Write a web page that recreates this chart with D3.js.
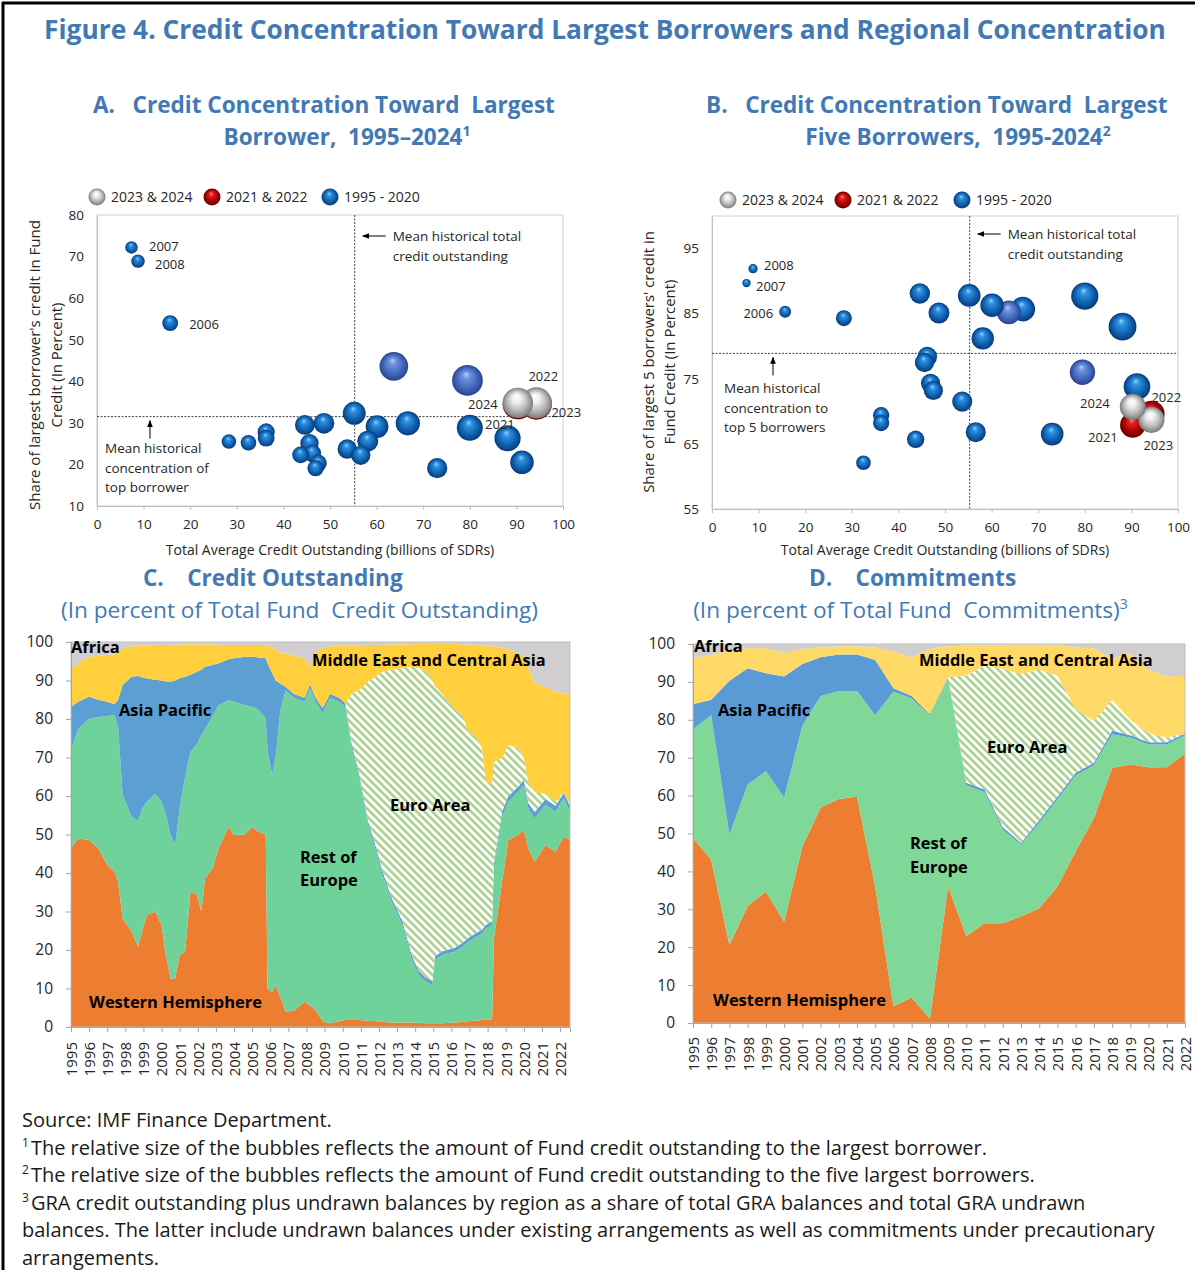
<!DOCTYPE html>
<html>
<head>
<meta charset="utf-8">
<title>Figure 4. Credit Concentration</title>
<script src="https://cdn.jsdelivr.net/npm/d3@7"></script>
<style>
  body { margin: 0; background: #fff; }
  svg text { font-family: "Open Sans", "Noto Sans", sans-serif; }
</style>
</head>
<body>
<svg id="fig" width="1195" height="1270"></svg>
<script>
// ---------- panels A and B: one bubble per year ----------
var bubbleLabel = ['2006', '2007', '2008', '', '', '', '', '', '', '', '', '', '', '', '', '', '', '', '', '', '', '', '', '', '', '',
  '2021', '2022', '2023', '2024'];
var bubbleSeries = ['1995 - 2020', '1995 - 2020', '1995 - 2020', '1995 - 2020', '1995 - 2020', '1995 - 2020', '1995 - 2020',
  '1995 - 2020', '1995 - 2020', '1995 - 2020', '1995 - 2020', '1995 - 2020', '1995 - 2020', '1995 - 2020', '1995 - 2020',
  '1995 - 2020', '1995 - 2020', '1995 - 2020', '1995 - 2020', '1995 - 2020', '1995 - 2020', '1995 - 2020', '1995 - 2020',
  '1995 - 2020', '1995 - 2020', '1995 - 2020', '2021 & 2022', '2021 & 2022', '2023 & 2024', '2023 & 2024'];
// total average credit outstanding (billions of SDRs)
var creditOutstanding = [15.7, 7.4, 8.8, 28.3, 32.5, 36.3, 36.3, 44.6, 45.6, 43.7, 46.2, 46.9, 47.5, 48.7, 55.2,
  53.7, 56.6, 58.1, 60.1, 63.7, 66.7, 73.0, 79.5, 80.0, 88.1, 91.2, 90.3, 94.3, 94.3, 90.3];
// share of the largest borrower (panel A) and of the five largest (panel B), percent
var topBorrowerShare = [54.0, 72.2, 68.9, 25.5, 25.2, 27.8, 26.3, 29.5, 25.1, 22.3, 22.7, 19.1, 20.3, 29.9, 32.3,
  23.7, 22.2, 25.6, 29.1, 43.6, 29.9, 19.1, 40.2, 28.8, 26.3, 20.5, 34.5, 34.5, 34.8, 34.8];
var topFiveShare = [85.3, 89.7, 91.9, 84.3, 62.1, 69.4, 68.2, 88.1, 77.5, 65.7, 78.4, 74.3, 73.2, 85.1, 87.8,
  71.5, 66.8, 81.2, 86.3, 85.2, 85.7, 66.5, 76.0, 87.7, 83.0, 73.8, 67.9, 69.6, 68.7, 70.7];
// bubble sizes: credit outstanding to the largest / five largest borrowers
var topBorrowerCredit = [8.5, 5.3, 6.1, 7.2, 8.2, 10.1, 9.5, 13.2, 11.4, 9.7, 10.5, 9.0, 9.6, 14.6, 17.8,
  12.7, 12.6, 14.9, 17.5, 27.8, 19.9, 13.9, 32.0, 23.0, 23.2, 18.7, 31.2, 32.5, 32.8, 31.4];
var topFiveCredit = [13.4, 6.6, 8.1, 23.9, 20.2, 25.2, 24.8, 39.3, 35.3, 28.7, 36.2, 34.8, 34.8, 41.4, 48.5,
  38.4, 37.8, 47.2, 51.9, 54.3, 57.2, 48.5, 60.4, 70.2, 73.1, 67.3, 61.3, 65.6, 64.8, 63.8];
var meanCredit = 55.3, meanTopBorrower = 31.5, meanTopFive = 78.9;
var legendItems = ['2023 & 2024', '2021 & 2022', '1995 - 2020'];
var paleBubbles = [19, 22]; // two years drawn in a paler blue in the original

// ---------- panels C and D: regional shares ----------
var regions = ['Western Hemisphere', 'Rest of Europe', 'Asia Pacific', 'Euro Area', 'Middle East and Central Asia', 'Africa'];

var cTime = [1995.0, 1995.4, 1996.0, 1996.5, 1997.0, 1997.4, 1997.6, 1997.85, 1998.35, 1998.7,
  1998.95, 1999.2, 1999.65, 2000.0, 2000.2, 2000.5, 2000.75, 2001.0, 2001.3, 2001.6,
  2001.95, 2002.2, 2002.4, 2002.8, 2003.15, 2003.7, 2004.0, 2004.6, 2005.0, 2005.35,
  2005.75, 2005.85, 2006.1, 2006.3, 2006.55, 2006.85, 2007.3, 2007.9, 2008.2, 2008.5,
  2008.9, 2009.3, 2009.8, 2010.15, 2010.5, 2010.9, 2011.4, 2011.8, 2012.2, 2012.7,
  2013.3, 2013.8, 2014.2, 2014.6, 2014.95, 2015.1, 2015.5, 2016.2, 2016.6, 2016.95,
  2017.3, 2017.7, 2017.9, 2018.25, 2018.35, 2018.8, 2019.15, 2019.7, 2020.0, 2020.25,
  2020.6, 2021.2, 2021.75, 2022.2, 2022.55];
var cWH = [46.4, 49.0, 48.6, 46.5, 42.1, 40.3, 37.7, 28.2, 24.8, 20.9,
  25.2, 29.1, 30.0, 26.5, 19.6, 12.6, 12.6, 18.7, 19.6, 35.2,
  34.3, 30.0, 38.6, 41.2, 46.4, 52.0, 49.9, 50.0, 52.0, 50.7,
  50.0, 10.0, 9.0, 10.9, 7.9, 4.0, 4.2, 6.6, 5.5, 4.4,
  1.4, 1.0, 1.5, 1.8, 1.8, 1.8, 1.6, 1.5, 1.3, 1.2,
  1.2, 1.2, 1.1, 1.0, 1.0, 1.0, 1.0, 1.2, 1.3, 1.5,
  1.6, 1.8, 1.9, 2.0, 23.0, 37.7, 48.6, 50.0, 51.2, 46.4,
  42.9, 47.3, 45.5, 49.4, 48.6];
var cRoE = [25.6, 28.5, 31.4, 34.0, 38.7, 40.7, 40.3, 32.1, 29.8, 32.6,
  31.8, 29.4, 30.5, 32.0, 36.3, 37.3, 34.7, 38.1, 45.4, 36.3,
  39.2, 45.8, 38.9, 39.3, 37.2, 32.9, 34.6, 33.6, 31.2, 31.8,
  30.2, 62.0, 56.5, 59.1, 74.1, 83.5, 81.3, 77.9, 82.5, 80.1,
  80.1, 84.5, 83.0, 81.4, 70.7, 63.2, 50.9, 44.9, 38.2, 31.4,
  25.3, 16.6, 12.4, 10.8, 9.9, 16.4, 17.7, 18.4, 19.5, 20.7,
  21.6, 22.5, 23.6, 24.5, 18.2, 16.9, 9.9, 11.1, 11.7, 10.4,
  11.3, 10.4, 10.4, 10.0, 7.3];
var cAP = [11.2, 7.0, 5.8, 4.5, 3.7, 2.8, 7.0, 28.5, 36.4, 37.7,
  33.8, 32.0, 29.7, 31.5, 33.9, 39.8, 42.7, 33.8, 26.0, 20.0,
  18.8, 17.0, 16.1, 13.5, 10.9, 10.6, 11.3, 12.6, 13.0, 13.5,
  15.6, 22.5, 26.5, 20.0, 7.2, 0.9, 1.0, 1.0, 1.0, 1.0,
  1.3, 1.0, 1.0, 0.8, 1.0, 1.0, 1.0, 1.0, 1.0, 1.0,
  1.0, 1.0, 1.0, 1.0, 1.0, 1.0, 1.0, 1.0, 1.0, 1.0,
  1.0, 1.0, 1.0, 1.0, 1.3, 1.4, 1.5, 1.4, 1.3, 1.4,
  1.6, 1.5, 1.6, 1.4, 1.6];
var cEA = [0, 0, 0, 0, 0, 0, 0, 0, 0, 0,
  0, 0, 0, 0, 0, 0, 0, 0, 0, 0,
  0, 0, 0, 0, 0, 0, 0, 0, 0, 0,
  0, 0, 0, 0, 0, 0, 0, 0, 0, 0,
  0, 0, 0, 0, 13.0, 21.5, 36.2, 43.6, 51.8, 59.2,
  65.7, 74.8, 78.7, 79.5, 78.1, 70.1, 66.8, 61.9, 59.2, 53.5,
  51.6, 47.1, 37.2, 35.8, 26.4, 13.8, 13.2, 9.9, 5.6, 5.5,
  5.3, 1.3, 1.0, 0.2, 0.5];
var cMECA = [9.8, 10.0, 10.4, 11.4, 12.1, 13.0, 12.5, 9.6, 7.8, 7.8,
  8.2, 8.6, 9.0, 9.2, 9.4, 9.6, 9.3, 8.7, 8.4, 7.9,
  7.1, 6.6, 5.8, 5.4, 4.8, 3.7, 3.4, 3.0, 3.0, 3.2,
  3.4, 4.5, 6.5, 8.0, 8.1, 8.6, 10.0, 10.3, 4.5, 12.0,
  15.6, 12.3, 13.5, 15.0, 12.5, 11.6, 9.5, 8.2, 7.0, 6.6,
  6.2, 5.8, 6.3, 7.2, 9.5, 11.0, 13.0, 17.0, 18.4, 22.6,
  23.4, 26.6, 35.3, 35.5, 29.9, 28.7, 24.8, 24.6, 26.7, 29.5,
  28.2, 27.9, 28.5, 25.7, 28.7];
var cAfrica = [7.0, 5.5, 3.8, 3.6, 3.4, 3.2, 2.5, 1.6, 1.2, 1.0,
  1.0, 0.9, 0.8, 0.8, 0.8, 0.7, 0.7, 0.7, 0.6, 0.6,
  0.6, 0.6, 0.6, 0.6, 0.7, 0.8, 0.8, 0.8, 0.8, 0.8,
  0.8, 1.0, 1.5, 2.0, 2.7, 3.0, 3.5, 4.2, 6.5, 2.5,
  1.6, 1.2, 1.0, 1.0, 1.0, 0.9, 0.8, 0.8, 0.7, 0.6,
  0.6, 0.6, 0.5, 0.5, 0.5, 0.5, 0.5, 0.5, 0.6, 0.7,
  0.8, 1.0, 1.0, 1.2, 1.2, 1.5, 2.0, 3.0, 3.5, 6.8,
  10.7, 11.6, 13.0, 13.3, 13.3];

var dYears = [1995, 1996, 1997, 1998, 1999, 2000, 2001, 2002, 2003, 2004, 2005, 2006, 2007, 2008,
  2009, 2010, 2011, 2012, 2013, 2014, 2015, 2016, 2017, 2018, 2019, 2020, 2021, 2022];
var dWH = [48.8, 43.1, 20.6, 30.9, 34.7, 26.7, 46.6, 56.8, 59.1, 59.7, 36.0, 4.4, 6.7, 1.1,
  36.0, 22.9, 26.3, 26.3, 28.1, 30.3, 36.0, 45.3, 54.1, 67.3, 68.2, 67.5, 67.5, 71.1];
var dRoE = [28.7, 38.1, 29.1, 32.0, 31.8, 32.7, 31.8, 29.5, 28.5, 27.9, 45.2, 83.0, 78.9, 80.1,
  54.9, 39.8, 34.6, 24.7, 18.9, 22.5, 23.0, 20.0, 13.9, 8.9, 7.1, 6.0, 6.0, 4.8];
var dAP = [6.6, 4.1, 40.6, 30.7, 25.8, 32.0, 16.3, 10.2, 9.6, 9.6, 14.6, 0.9, 0.7, 0.3,
  0.3, 0.7, 0.7, 0.7, 0.5, 0.7, 0.7, 0.7, 0.7, 0.9, 0.6, 0.6, 0.6, 0.5];
var dEA = [0, 0, 0, 0, 0, 0, 0, 0, 0, 0, 0, 0, 0, 0,
  0, 28.2, 32.8, 41.7, 44.6, 39.7, 31.9, 16.8, 11.0, 8.1, 4.1, 2.3, 1.2, 0.0];
var dMECA = [12.1, 11.8, 7.9, 5.3, 6.6, 6.2, 4.0, 2.6, 2.2, 2.2, 3.3, 9.7, 10.2, 17.2,
  8.2, 8.0, 5.2, 6.3, 7.8, 6.6, 8.2, 16.3, 19.2, 11.0, 17.4, 16.8, 16.1, 15.2];
var dAfrica = [3.8, 2.9, 1.8, 1.1, 1.1, 2.4, 1.3, 0.9, 0.6, 0.6, 0.9, 2.0, 3.5, 1.3,
  0.6, 0.4, 0.4, 0.3, 0.1, 0.2, 0.2, 0.9, 1.1, 3.8, 2.6, 6.8, 8.6, 8.4];

var yearTicks = d3.range(1995, 2023);

// ---------- drawing ----------
var svg = d3.select('#fig');
var titleBlue = '#4279b5';
var defs = svg.append('defs');

function sphere(id, stops) {
  var gr = defs.append('radialGradient').attr('id', id)
    .attr('cx', '50%').attr('cy', '50%').attr('r', '50%').attr('fx', '45%').attr('fy', '28%');
  stops.forEach(function (s) {
    gr.append('stop').attr('offset', s[0]).attr('stop-color', s[1]);
  });
}
sphere('sph-blue', [['0%', '#8fd3ff'], ['25%', '#2f8fdd'], ['70%', '#0d5fae'], ['100%', '#093a74']]);
sphere('sph-pale', [['0%', '#b6cdf7'], ['25%', '#6d92dc'], ['70%', '#4064bb'], ['100%', '#2b448c']]);
sphere('sph-red', [['0%', '#ff8c8c'], ['25%', '#dd2222'], ['70%', '#a80000'], ['100%', '#600000']]);
sphere('sph-grey', [['0%', '#ffffff'], ['30%', '#eeeeee'], ['70%', '#b3b3b3'], ['100%', '#7a7a7a']]);
var seriesFill = { '1995 - 2020': 'url(#sph-blue)', '2021 & 2022': 'url(#sph-red)', '2023 & 2024': 'url(#sph-grey)' };
var seriesRank = { '1995 - 2020': 0, '2021 & 2022': 1, '2023 & 2024': 2 };

var hatch = defs.append('pattern').attr('id', 'hatch').attr('patternUnits', 'userSpaceOnUse')
  .attr('width', 5.5).attr('height', 5.5).attr('patternTransform', 'rotate(-45)');
hatch.append('rect').attr('width', 5.5).attr('height', 5.5).attr('fill', '#ffffff');
hatch.append('rect').attr('width', 2.6).attr('height', 5.5).attr('fill', '#a9d18e');

defs.append('marker').attr('id', 'arrow').attr('viewBox', '0 0 10 10').attr('refX', 9).attr('refY', 5)
  .attr('markerWidth', 7).attr('markerHeight', 7).attr('orient', 'auto-start-reverse')
  .append('path').attr('d', 'M0,1 L10,5 L0,9 z').attr('fill', '#000');

// scale a text's font size so that it spans the given width
function fitWidth(sel, w) {
  var fs = parseFloat(sel.attr('font-size'));
  var len = sel.node().getComputedTextLength();
  fs = fs * w / len;
  sel.attr('font-size', fs);
  return fs;
}

// frame of the figure
svg.append('line').attr('x1', 2).attr('x2', 1195).attr('y1', 3).attr('y2', 3).attr('stroke', '#000').attr('stroke-width', 3);
svg.append('line').attr('x1', 3).attr('x2', 3).attr('y1', 2).attr('y2', 1270).attr('stroke', '#000').attr('stroke-width', 3);

// main title
var mainTitle = svg.append('text').attr('x', 605).attr('y', 39).attr('text-anchor', 'middle')
  .attr('font-size', 26).attr('font-weight', 700).style('fill', titleBlue)
  .text('Figure 4. Credit Concentration Toward Largest Borrowers and Regional Concentration');
fitWidth(mainTitle, 1122);

function titleText(x, y, anchor, txt, sup, weight) {
  var t = svg.append('text').attr('x', x).attr('y', y).attr('text-anchor', anchor)
    .attr('font-size', 22).attr('font-weight', weight).style('fill', titleBlue).style('white-space', 'pre');
  t.append('tspan').text(txt);
  if (sup) t.append('tspan').attr('font-size', '0.62em').attr('baseline-shift', 'super').text(sup);
  return t;
}
var tA = titleText(93, 113, 'start', 'A.   Credit Concentration Toward  Largest', null, 700);
var panelFs = fitWidth(tA, 462);
titleText(347, 145, 'middle', 'Borrower,  1995\u20132024', '1', 700).attr('font-size', panelFs);
titleText(706, 113, 'start', 'B.   Credit Concentration Toward  Largest', null, 700).attr('font-size', panelFs);
titleText(958, 145, 'middle', 'Five Borrowers,  1995-2024', '2', 700).attr('font-size', panelFs);
titleText(143, 586, 'start', 'C.    Credit Outstanding', null, 700).attr('font-size', panelFs);
titleText(809, 586, 'start', 'D.    Commitments', null, 700).attr('font-size', panelFs);
var subC = titleText(299.5, 618, 'middle', '(In percent of Total Fund  Credit Outstanding)', null, 400);
var subFs = fitWidth(subC, 477);
titleText(910.5, 618, 'middle', '(In percent of Total Fund  Commitments)', '3', 400).attr('font-size', subFs);

// ---------- bubble panels ----------
function bubblePanel(o) {
  var x = d3.scaleLinear().domain([0, 100]).range([o.left, o.right]);
  var y = d3.scaleLinear().domain(o.yDomain).range([o.bottom, o.top]);
  var r = d3.scaleSqrt().domain([0, o.sizeMax]).range([0, o.rMax]);
  var g = svg.append('g');

  g.append('rect').attr('x', o.left).attr('y', o.top).attr('width', o.right - o.left).attr('height', o.bottom - o.top)
    .attr('fill', 'none').attr('stroke', '#d0d0d0');

  var ax = g.append('g').attr('transform', 'translate(0,' + o.bottom + ')')
    .call(d3.axisBottom(x).tickValues(d3.range(0, 101, 10)).tickSize(4).tickPadding(9));
  var ay = g.append('g').attr('transform', 'translate(' + o.left + ',0)')
    .call(d3.axisLeft(y).tickValues(o.yTicks).tickSize(0).tickPadding(13));
  [ax, ay].forEach(function (a) {
    a.selectAll('path, line').attr('stroke', '#bfbfbf');
    a.selectAll('text').attr('font-size', 13.5).style('fill', '#262626');
  });

  // mean lines
  g.append('line').attr('x1', x(meanCredit)).attr('x2', x(meanCredit)).attr('y1', o.top).attr('y2', o.bottom)
    .attr('stroke', '#404040').attr('stroke-dasharray', '2,1.5');
  g.append('line').attr('x1', o.left).attr('x2', o.right).attr('y1', y(o.mean)).attr('y2', y(o.mean))
    .attr('stroke', '#404040').attr('stroke-dasharray', '2,1.5');

  var order = d3.range(creditOutstanding.length).sort(function (a, b) {
    return seriesRank[bubbleSeries[a]] - seriesRank[bubbleSeries[b]] || o.size[b] - o.size[a];
  });
  g.selectAll('circle.bub').data(order).enter().append('circle')
    .attr('class', 'bub')
    .attr('cx', function (i) { return x(creditOutstanding[i]); })
    .attr('cy', function (i) { return y(o.share[i]); })
    .attr('r', function (i) { return r(o.size[i]); })
    .attr('fill', function (i) {
      return paleBubbles.indexOf(i) >= 0 ? 'url(#sph-pale)' : seriesFill[bubbleSeries[i]];
    });

  // year labels
  d3.range(creditOutstanding.length).forEach(function (i) {
    var lab = bubbleLabel[i];
    if (!lab) return;
    var off = o.labelOffsets[lab];
    g.append('text').attr('x', x(creditOutstanding[i]) + off[0]).attr('y', y(o.share[i]) + off[1])
      .attr('text-anchor', off[2]).attr('font-size', 13).style('fill', '#262626').text(lab);
  });

  // legend
  legendItems.forEach(function (name, k) {
    g.append('circle').attr('cx', o.legendX[k]).attr('cy', o.legendY).attr('r', 8.5).attr('fill', seriesFill[name]);
    g.append('text').attr('x', o.legendX[k] + 14).attr('y', o.legendY + 5).attr('font-size', 14)
      .style('fill', '#262626').text(name);
  });

  // axis titles
  var xt = g.append('text').attr('x', (o.left + o.right) / 2).attr('y', 555).attr('text-anchor', 'middle')
    .attr('font-size', 13).style('fill', '#262626').text('Total Average Credit Outstanding (billions of SDRs)');
  fitWidth(xt, 329);
  o.yTitle.forEach(function (line, k) {
    var t = g.append('text').attr('transform', 'translate(' + o.yTitleX[k] + ',' + o.yTitleMid + ') rotate(-90)')
      .attr('text-anchor', 'middle').attr('dy', '0.35em').attr('font-size', 13).style('fill', '#262626').text(line);
    fitWidth(t, o.yTitleW[k]);
  });

  // annotations
  function note(lines, x0, y0) {
    lines.forEach(function (s, k) {
      g.append('text').attr('x', x0).attr('y', y0 + k * 19.5).attr('font-size', 13.5).style('fill', '#262626').text(s);
    });
  }
  var vx = x(meanCredit);
  g.append('line').attr('x1', vx + 31).attr('x2', vx + 8).attr('y1', o.topNoteY - 5).attr('y2', o.topNoteY - 5)
    .attr('stroke', '#000').attr('marker-end', 'url(#arrow)');
  note(['Mean historical total', 'credit outstanding'], vx + 38, o.topNoteY);
  g.append('line').attr('x1', o.upArrowX).attr('x2', o.upArrowX).attr('y1', y(o.mean) + 22).attr('y2', y(o.mean) + 4)
    .attr('stroke', '#000').attr('marker-end', 'url(#arrow)');
  note(o.lowNote, o.lowNoteX, o.lowNoteY);
}

bubblePanel({
  left: 97, right: 563, top: 215, bottom: 506,
  yDomain: [10, 80], yTicks: d3.range(10, 81, 10),
  share: topBorrowerShare, size: topBorrowerCredit, sizeMax: 33, rMax: 15.6,
  mean: meanTopBorrower,
  labelOffsets: {
    '2006': [19, 6, 'start'], '2007': [17.5, 4, 'start'], '2008': [17, 8, 'start'],
    '2021': [-3, 25, 'end'], '2022': [-8, -23, 'start'], '2023': [15, 14, 'start'], '2024': [-20, 6, 'end']
  },
  legendX: [97, 212, 330], legendY: 197,
  yTitle: ["Share of largest borrower's credit in Fund", 'Credit (In Percent)'],
  yTitleX: [35, 57], yTitleMid: 365, yTitleW: [290, 125],
  topNoteY: 241, upArrowX: 150,
  lowNote: ['Mean historical', 'concentration of', 'top borrower'], lowNoteX: 105, lowNoteY: 453
});

bubblePanel({
  left: 712, right: 1178, top: 216, bottom: 509,
  yDomain: [55, 100], yTicks: [55, 65, 75, 85, 95],
  share: topFiveShare, size: topFiveCredit, sizeMax: 73, rMax: 13.9,
  mean: meanTopFive,
  labelOffsets: {
    '2006': [-12, 6, 'end'], '2007': [9.5, 8, 'start'], '2008': [11, 1, 'start'],
    '2021': [-15, 16.5, 'end'], '2022': [0, -12, 'start'], '2023': [-8, 30, 'start'], '2024': [-23, 1, 'end']
  },
  legendX: [728, 843, 962], legendY: 200,
  yTitle: ["Share of largest 5 borrowers' credit in", 'Fund Credit (In Percent)'],
  yTitleX: [649, 670], yTitleMid: 362, yTitleW: [262, 165],
  topNoteY: 239, upArrowX: 773,
  lowNote: ['Mean historical', 'concentration to', 'top 5 borrowers'], lowNoteX: 724, lowNoteY: 393
});

// ---------- stacked area panels ----------
function stackPanel(o) {
  var x = d3.scaleLinear().domain(o.xDomain).range([o.left, o.right]);
  var y = d3.scaleLinear().domain([0, 100]).range([o.bottom, o.top]);
  var rows = o.time.map(function (t, i) {
    var row = { t: t };
    regions.forEach(function (k, j) { row[k] = o.series[j][i]; });
    return row;
  });
  var layers = d3.stack().keys(regions)(rows);
  var area = d3.area()
    .x(function (d) { return x(d.data.t); })
    .y0(function (d) { return y(d[0]); })
    .y1(function (d) { return y(d[1]); });

  var g = svg.append('g');
  g.append('clipPath').attr('id', o.id + '-clip').append('rect')
    .attr('x', o.left).attr('y', o.top).attr('width', o.right - o.left).attr('height', o.bottom - o.top);
  g.append('g').attr('clip-path', 'url(#' + o.id + '-clip)')
    .selectAll('path').data(layers).enter().append('path')
    .attr('d', area)
    .attr('fill', function (d) { return o.colors[d.key]; });

  g.append('rect').attr('x', o.left).attr('y', o.top).attr('width', o.right - o.left).attr('height', o.bottom - o.top)
    .attr('fill', 'none').attr('stroke', '#bfbfbf');

  var ay = g.append('g').attr('transform', 'translate(' + o.left + ',0)')
    .call(d3.axisLeft(y).tickValues(d3.range(0, 101, 10)).tickSize(5).tickPadding(13));
  var ax = g.append('g').attr('transform', 'translate(0,' + o.bottom + ')')
    .call(d3.axisBottom(x).tickValues(yearTicks).tickSize(5).tickFormat(d3.format('d')));
  [ax, ay].forEach(function (a) {
    a.selectAll('path, line').attr('stroke', '#a6a6a6');
    a.selectAll('text').attr('font-size', 15.5).style('fill', '#262626');
  });
  ax.selectAll('text').attr('transform', 'rotate(-90)').attr('text-anchor', 'end')
    .attr('x', -o.labelGap).attr('y', 0).attr('dy', '0.36em').attr('font-size', 15);

  o.labels.forEach(function (l) {
    g.append('text').attr('x', l[1]).attr('y', l[2]).attr('font-size', o.labelFs).attr('font-weight', 700)
      .style('fill', '#000').text(l[0]);
  });
}

var labelTest = svg.append('text').attr('font-size', 16).attr('font-weight', 700).text('Middle East and Central Asia');
var regionFs = fitWidth(labelTest, 234);
labelTest.remove();

stackPanel({
  id: 'pc', left: 71, right: 570, top: 642, bottom: 1027, xDomain: [1995, 2022.55], labelGap: 15,
  time: cTime, series: [cWH, cRoE, cAP, cEA, cMECA, cAfrica],
  colors: {
    'Western Hemisphere': '#ed7d31', 'Rest of Europe': '#70d29b', 'Asia Pacific': '#5b9fd3',
    'Euro Area': 'url(#hatch)', 'Middle East and Central Asia': '#ffcf3d', 'Africa': '#d0cece'
  },
  labelFs: regionFs,
  labels: [['Africa', 71, 653], ['Middle East and Central Asia', 312, 666], ['Asia Pacific', 119, 716],
    ['Euro Area', 390, 811], ['Rest of', 300, 863], ['Europe', 300, 886], ['Western Hemisphere', 89, 1008]]
});

stackPanel({
  id: 'pd', left: 693, right: 1185, top: 644, bottom: 1023, xDomain: [1995, 2022], labelGap: 14,
  time: dYears, series: [dWH, dRoE, dAP, dEA, dMECA, dAfrica],
  colors: {
    'Western Hemisphere': '#ed7d31', 'Rest of Europe': '#80d898', 'Asia Pacific': '#5b9bd5',
    'Euro Area': 'url(#hatch)', 'Middle East and Central Asia': '#ffd966', 'Africa': '#d0cece'
  },
  labelFs: regionFs,
  labels: [['Africa', 694, 652], ['Middle East and Central Asia', 919, 666], ['Asia Pacific', 718, 716],
    ['Euro Area', 987, 753], ['Rest of', 910, 849], ['Europe', 910, 873], ['Western Hemisphere', 713, 1006]]
});

// ---------- footnotes ----------
var notes = [
  [null, 'Source: IMF Finance Department.'],
  ['1', 'The relative size of the bubbles reflects the amount of Fund credit outstanding to the largest borrower.'],
  ['2', 'The relative size of the bubbles reflects the amount of Fund credit outstanding to the five largest borrowers.'],
  ['3', 'GRA credit outstanding plus undrawn balances by region as a share of total GRA balances and total GRA undrawn'],
  [null, 'balances. The latter include undrawn balances under existing arrangements as well as commitments under precautionary'],
  [null, 'arrangements.']
];
var noteTexts = notes.map(function (n, k) {
  var t = svg.append('text').attr('x', 22).attr('y', 1127 + k * 27.6).attr('font-size', 19).style('fill', '#1a1a1a');
  if (n[0]) {
    t.append('tspan').attr('font-size', '0.6em').attr('baseline-shift', 'super').text(n[0]);
    t.append('tspan').attr('dx', 2).text(n[1]);
  } else {
    t.text(n[1]);
  }
  return t;
});
var noteFs = fitWidth(noteTexts[4], 1133);
noteTexts.forEach(function (t) { t.attr('font-size', noteFs); });
</script>
</body>
</html>
